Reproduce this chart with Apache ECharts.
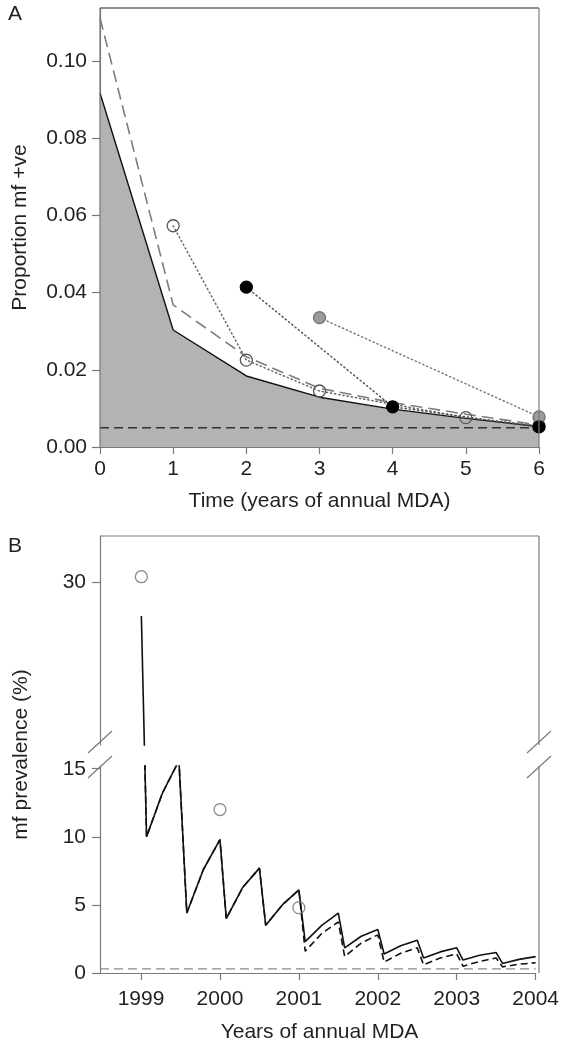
<!DOCTYPE html>
<html>
<head>
<meta charset="utf-8">
<script src="https://cdn.jsdelivr.net/npm/echarts@6/dist/echarts.min.js"></script>
<style>
  html, body { margin: 0; padding: 0; background: #fff; }
  #chart { width: 562px; height: 1044px; }
</style>
</head>
<body>
<div id="chart"></div>
<script>
// ---------- Panel A: proportion mf positive by year of annual MDA ----------
const yearsA = [0, 1, 2, 3, 4, 5, 6];
const modelSolidA = [0.0917, 0.0303, 0.0184, 0.0129, 0.0098, 0.0074, 0.0053];
const modelDashedA = [0.1111, 0.0368, 0.0234, 0.0152, 0.0115, 0.0085, 0.0057];
const openObsYearsA = [1, 2, 3, 5, 6];
const openObsA = [0.0573, 0.0225, 0.0145, 0.0076, 0.0055];
const blackObsYearsA = [2, 4, 6];
const blackObsA = [0.0414, 0.0104, 0.0052];
const greyObsYearsA = [3, 6];
const greyObsA = [0.0335, 0.0078];
const thresholdA = 0.005;
const xTicksA = [0, 1, 2, 3, 4, 5, 6];
const yTicksA = [0, 0.02, 0.04, 0.06, 0.08, 0.10];

// ---------- Panel B: mf prevalence (%) over calendar time ----------
const timeB = [1999.00, 1999.07, 1999.27, 1999.48, 1999.58, 1999.79, 2000.00,
  2000.08, 2000.29, 2000.50, 2000.58, 2000.79, 2001.00,
  2001.08, 2001.29, 2001.50, 2001.58, 2001.79, 2002.00,
  2002.08, 2002.29, 2002.50, 2002.58, 2002.79, 2003.00,
  2003.08, 2003.29, 2003.50, 2003.58, 2003.79, 2004.00];
const modelSolidB = [27.5, 10.0, 13.2, 15.6, 4.4, 7.6, 9.8,
  4.0, 6.3, 7.7, 3.5, 5.0, 6.1,
  2.3, 3.5, 4.4, 1.85, 2.7, 3.2,
  1.4, 2.0, 2.4, 1.1, 1.55, 1.85,
  0.95, 1.3, 1.5, 0.7, 1.0, 1.2];
const modelDashedB = [27.5, 10.0, 13.2, 15.6, 4.4, 7.6, 9.8,
  4.0, 6.3, 7.7, 3.5, 5.0, 6.1,
  1.6, 2.9, 3.75, 1.2, 2.2, 2.8,
  0.8, 1.45, 1.85, 0.6, 1.1, 1.4,
  0.5, 0.85, 1.1, 0.45, 0.65, 0.75];
const obsYearsB = [1999, 2000, 2001];
const obsB = [30.4, 12.0, 4.8];
const thresholdB = 0.3;
const xTicksB = [1999, 2000, 2001, 2002, 2003, 2004];
const yTicksUpperB = [30];
const yTicksLowerB = [0, 5, 10, 15];

// ---------- layout ----------
const PLOT_L = 100, PLOT_R = 539;
const A_TOP = 8, A_BOT = 447;
const BU_TOP = 536, BU_BOT = 745;   // upper part of the broken axis
const BL_TOP = 766, BL_BOT = 973;   // lower part of the broken axis
const FONT = '"Liberation Sans", Arial, Helvetica, sans-serif';
const FS = 21;
const TXT = '#231f20';
const FRAME = '#7a7a7a';

const pairs = (xs, ys) => xs.map((x, i) => [x, ys[i]]);

function valueAxis(extra) {
  return Object.assign({
    type: 'value',
    splitLine: { show: false },
    axisLine: { show: true, onZero: false, lineStyle: { color: FRAME, width: 1.2 } },
    axisTick: { show: true, inside: false, length: 7, lineStyle: { color: FRAME, width: 1.2 } },
    axisLabel: { color: TXT, fontSize: FS, fontFamily: FONT }
  }, extra);
}

function ticks(values, len) {
  return { show: true, length: len, customValues: values, lineStyle: { color: FRAME, width: 1.2 } };
}
function tickLabels(values, margin, fmt) {
  return { color: TXT, fontSize: FS, fontFamily: FONT, margin, customValues: values,
    formatter: fmt || (v => String(v)) };
}

const chart = echarts.init(document.getElementById('chart'), null, { renderer: 'canvas' });

const lineStyleSeries = (name, data, x, y, style, z) => ({
  name, type: 'line', xAxisIndex: x, yAxisIndex: y, data,
  showSymbol: false, symbol: 'none', clip: true, z: z || 3,
  lineStyle: style, animation: false
});

function obsSeries(name, data, fill, border, dotColor, x, y) {
  return {
    name, type: 'line', xAxisIndex: x, yAxisIndex: y, data,
    symbol: 'circle', symbolSize: 12, showSymbol: true, z: 6,
    lineStyle: { color: dotColor, width: 1.5, type: [1.2, 3], cap: 'round' },
    itemStyle: { color: fill, borderColor: border, borderWidth: 1.3 },
    animation: false
  };
}

// break marks on the panel B frame
function slash(cx, cy) {
  return { type: 'line', z: 20, shape: { x1: cx - 12, y1: cy + 11, x2: cx + 12, y2: cy - 11 },
    style: { stroke: FRAME, lineWidth: 1.2 } };
}
function frameLine(x1, y1, x2, y2, color) {
  return { type: 'line', z: 20, shape: { x1, y1, x2, y2 },
    style: { stroke: color || FRAME, lineWidth: 1.2 } };
}
function label(text, x, y, rotated) {
  return { type: 'text', x, y, z: 20, rotation: rotated ? Math.PI / 2 : 0,
    style: { text, fill: TXT, font: FS + 'px ' + FONT, textAlign: 'center', textVerticalAlign: 'middle' } };
}

const option = {
  backgroundColor: '#fff',
  animation: false,
  grid: [
    { left: PLOT_L, width: PLOT_R - PLOT_L, top: A_TOP, height: A_BOT - A_TOP },
    { left: PLOT_L, width: PLOT_R - PLOT_L, top: BU_TOP, height: BU_BOT - BU_TOP },
    { left: PLOT_L, width: PLOT_R - PLOT_L, top: BL_TOP, height: BL_BOT - BL_TOP }
  ],
  xAxis: [
    valueAxis({ gridIndex: 0, min: 0, max: 6, axisTick: ticks(xTicksA, 7), axisLabel: tickLabels(xTicksA, 12) }),
    valueAxis({ gridIndex: 1, min: 1998.48, max: 2004, show: false }),
    valueAxis({ gridIndex: 2, min: 1998.48, max: 2004, axisTick: ticks(xTicksB, 7), axisLabel: tickLabels(xTicksB, 16) })
  ],
  yAxis: [
    valueAxis({ gridIndex: 0, min: 0, max: 0.1137, axisTick: ticks(yTicksA, 8),
      axisLabel: tickLabels(yTicksA, 13, v => v.toFixed(2)) }),
    valueAxis({ gridIndex: 1, min: 18, max: 33.4, axisTick: ticks(yTicksUpperB, 8),
      axisLabel: tickLabels(yTicksUpperB, 14) }),
    valueAxis({ gridIndex: 2, min: 0, max: 15.2, axisTick: ticks(yTicksLowerB, 8),
      axisLabel: tickLabels(yTicksLowerB, 14) })
  ],
  series: [
    // panel A
    Object.assign(lineStyleSeries('model A', pairs(yearsA, modelSolidA), 0, 0,
      { color: '#111', width: 1.4 }, 3), { areaStyle: { color: '#b3b3b3', opacity: 1 } }),
    lineStyleSeries('threshold A', pairs([0, 6], [thresholdA, thresholdA]), 0, 0,
      { color: '#333', width: 1.6, type: [9, 5] }, 4),
    lineStyleSeries('model A alt', pairs(yearsA, modelDashedA), 0, 0,
      { color: '#7d7d7d', width: 1.6, type: [12, 6] }, 4),
    obsSeries('open', pairs(openObsYearsA, openObsA), 'rgba(255,255,255,0)', '#555', '#666', 0, 0),
    obsSeries('grey', pairs(greyObsYearsA, greyObsA), '#9b9b9b', '#6e6e6e', '#777', 0, 0),
    obsSeries('black', pairs(blackObsYearsA, blackObsA), '#000', '#000', '#555', 0, 0),

    // panel B, upper part
    lineStyleSeries('model B upper', pairs(timeB, modelSolidB), 1, 1, { color: '#111', width: 1.6 }, 3),
    // panel B, lower part
    lineStyleSeries('threshold B', pairs([1998.48, 2004], [thresholdB, thresholdB]), 2, 2,
      { color: '#8a8a8a', width: 1.4, type: [9, 5] }, 3),
    lineStyleSeries('model B', pairs(timeB, modelSolidB), 2, 2, { color: '#111', width: 1.6 }, 4),
    lineStyleSeries('model B alt', pairs(timeB, modelDashedB), 2, 2, { color: '#111', width: 1.6, type: [7, 4] }, 4),
    { name: 'obs B upper', type: 'scatter', xAxisIndex: 1, yAxisIndex: 1, clip: true, z: 6,
      data: pairs(obsYearsB, obsB), symbol: 'circle', symbolSize: 12,
      itemStyle: { color: 'rgba(255,255,255,0)', borderColor: '#6a6a6a', borderWidth: 1.3 } },
    { name: 'obs B', type: 'scatter', xAxisIndex: 2, yAxisIndex: 2, clip: true, z: 6,
      data: pairs(obsYearsB, obsB), symbol: 'circle', symbolSize: 12,
      itemStyle: { color: 'rgba(255,255,255,0)', borderColor: '#6a6a6a', borderWidth: 1.3 } }
  ],
  graphic: [
    // panel A frame
    frameLine(PLOT_L, A_TOP, PLOT_R, A_TOP, '#222'),
    frameLine(PLOT_R, A_TOP, PLOT_R, A_BOT),
    frameLine(PLOT_L, A_TOP, PLOT_L, A_BOT),
    // panel B frame
    frameLine(PLOT_L, BU_TOP, PLOT_R, BU_TOP),
    frameLine(PLOT_R, BU_TOP, PLOT_R, BU_BOT),
    frameLine(PLOT_R, BL_TOP, PLOT_R, BL_BOT),
    slash(PLOT_L, BU_BOT - 3), slash(PLOT_L, BL_TOP + 1),
    slash(PLOT_R, BU_BOT - 3), slash(PLOT_R, BL_TOP + 1),
    // panel letters and axis titles
    label('A', 15, 14),
    label('B', 15, 546),
    label('Proportion mf +ve', 20, (A_TOP + A_BOT) / 2, true),
    label('Time (years of annual MDA)', (PLOT_L + PLOT_R) / 2, 501),
    label('mf prevalence (%)', 21, (BU_TOP + BL_BOT) / 2, true),
    label('Years of annual MDA', (PLOT_L + PLOT_R) / 2, 1032)
  ]
};

chart.setOption(option);
</script>
</body>
</html>
